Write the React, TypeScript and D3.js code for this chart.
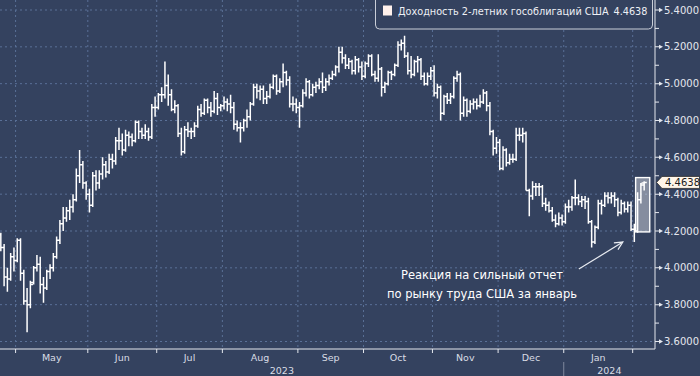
import React from "react";
import * as d3 from "d3";

type Bar = [number, number, number, number]; // open, high, low, close

const apr: Bar[] = [
  [4.18, 4.19, 4.09, 4.11], [4.11, 4.13, 3.9, 3.95], [3.95, 4.0, 3.87, 3.94], [3.94, 4.08, 3.93, 4.06], [4.06, 4.11, 3.98, 4.04],
];
const may: Bar[] = [
  [4.04, 4.16, 4.03, 4.15], [4.15, 4.16, 3.93, 3.97], [3.97, 3.99, 3.8, 3.82], [3.82, 3.89, 3.65, 3.8], [3.8, 3.93, 3.78, 3.91],
  [3.92, 4.01, 3.91, 4.0], [4.0, 4.07, 3.98, 4.02], [4.02, 4.06, 3.86, 3.91], [3.91, 3.95, 3.81, 3.89], [3.89, 3.99, 3.88, 3.98],
  [3.98, 4.02, 3.94, 4.0], [4.0, 4.08, 3.98, 4.06], [4.06, 4.17, 4.05, 4.15], [4.15, 4.26, 4.13, 4.24], [4.24, 4.33, 4.2, 4.27],
  [4.27, 4.33, 4.25, 4.31], [4.31, 4.37, 4.26, 4.33], [4.33, 4.4, 4.3, 4.37], [4.37, 4.54, 4.36, 4.5], [4.5, 4.64, 4.46, 4.56],
  [4.56, 4.58, 4.43, 4.46], [4.46, 4.47, 4.37, 4.4],
];
const jun: Bar[] = [
  [4.4, 4.43, 4.3, 4.34], [4.34, 4.52, 4.33, 4.5], [4.5, 4.53, 4.42, 4.46], [4.46, 4.53, 4.43, 4.51], [4.51, 4.6, 4.48, 4.56],
  [4.56, 4.58, 4.49, 4.52], [4.52, 4.62, 4.51, 4.59], [4.59, 4.62, 4.54, 4.58], [4.58, 4.71, 4.56, 4.69], [4.69, 4.76, 4.64, 4.69],
  [4.69, 4.73, 4.61, 4.64], [4.64, 4.75, 4.63, 4.72], [4.72, 4.74, 4.66, 4.71], [4.71, 4.73, 4.66, 4.69], [4.69, 4.8, 4.68, 4.79],
  [4.79, 4.8, 4.7, 4.74], [4.74, 4.76, 4.7, 4.72], [4.72, 4.78, 4.7, 4.74], [4.74, 4.76, 4.69, 4.71], [4.71, 4.89, 4.7, 4.87],
  [4.87, 4.93, 4.82, 4.87],
];
const jul: Bar[] = [
  [4.87, 4.95, 4.86, 4.94], [4.94, 4.98, 4.9, 4.94], [4.94, 5.12, 4.92, 4.99], [4.99, 5.05, 4.88, 4.94], [4.94, 4.97, 4.85, 4.86],
  [4.86, 4.91, 4.84, 4.88], [4.88, 4.89, 4.71, 4.73], [4.73, 4.76, 4.61, 4.63], [4.63, 4.77, 4.62, 4.75], [4.75, 4.79, 4.71, 4.74],
  [4.74, 4.76, 4.7, 4.74], [4.74, 4.79, 4.71, 4.77], [4.77, 4.88, 4.76, 4.86], [4.86, 4.89, 4.82, 4.84], [4.84, 4.92, 4.83, 4.91],
  [4.91, 4.92, 4.84, 4.87], [4.87, 4.9, 4.82, 4.85], [4.85, 4.96, 4.84, 4.92], [4.92, 4.95, 4.83, 4.87], [4.87, 4.89, 4.85, 4.88],
];
const aug: Bar[] = [
  [4.88, 4.93, 4.86, 4.9], [4.9, 4.92, 4.85, 4.89], [4.89, 4.94, 4.84, 4.87], [4.87, 4.9, 4.75, 4.78], [4.78, 4.8, 4.74, 4.76],
  [4.76, 4.79, 4.68, 4.76], [4.76, 4.81, 4.74, 4.8], [4.8, 4.86, 4.76, 4.82], [4.82, 4.9, 4.8, 4.89], [4.89, 5.0, 4.88, 4.98],
  [4.98, 5.0, 4.92, 4.96], [4.96, 4.99, 4.91, 4.97], [4.97, 4.99, 4.89, 4.92], [4.92, 4.96, 4.89, 4.93], [4.93, 5.0, 4.92, 4.98],
  [4.98, 5.05, 4.97, 5.04], [5.04, 5.05, 4.94, 4.96], [4.96, 5.03, 4.95, 5.01], [5.01, 5.11, 4.98, 5.06], [5.06, 5.07, 4.99, 5.02],
  [5.02, 5.04, 4.87, 4.89], [4.89, 4.93, 4.85, 4.89], [4.89, 4.92, 4.84, 4.87],
];
const sep: Bar[] = [
  [4.87, 4.9, 4.76, 4.88], [4.88, 4.97, 4.87, 4.95], [4.95, 5.03, 4.93, 5.01], [5.01, 5.02, 4.92, 4.94], [4.94, 5.0, 4.93, 4.98],
  [4.98, 5.01, 4.95, 4.99], [4.99, 5.03, 4.97, 5.01], [5.01, 5.06, 4.95, 4.98], [4.98, 5.03, 4.96, 5.01], [5.01, 5.05, 4.99, 5.03],
  [5.03, 5.07, 5.02, 5.05], [5.05, 5.1, 5.04, 5.09], [5.09, 5.2, 5.06, 5.17], [5.17, 5.2, 5.11, 5.14], [5.14, 5.16, 5.08, 5.1],
  [5.1, 5.14, 5.08, 5.12], [5.12, 5.13, 5.05, 5.07], [5.07, 5.15, 5.05, 5.13], [5.13, 5.14, 5.06, 5.09], [5.09, 5.12, 5.02, 5.04],
];
const oct: Bar[] = [
  [5.04, 5.12, 5.03, 5.11], [5.11, 5.16, 5.09, 5.15], [5.15, 5.16, 5.04, 5.05], [5.05, 5.07, 5.01, 5.03], [5.03, 5.16, 5.01, 5.08],
  [5.08, 5.09, 4.93, 4.98], [4.98, 5.01, 4.95, 5.0], [5.0, 5.07, 4.99, 5.06], [5.06, 5.07, 5.02, 5.05], [5.05, 5.11, 5.04, 5.1],
  [5.1, 5.23, 5.09, 5.21], [5.21, 5.24, 5.18, 5.22], [5.22, 5.26, 5.14, 5.15], [5.15, 5.17, 5.05, 5.07], [5.07, 5.15, 5.03, 5.05],
  [5.05, 5.13, 5.04, 5.12], [5.12, 5.15, 5.06, 5.13], [5.13, 5.14, 5.02, 5.04], [5.04, 5.06, 4.99, 5.0], [5.0, 5.06, 4.99, 5.04],
  [5.04, 5.09, 5.02, 5.07],
];
const nov: Bar[] = [
  [5.07, 5.1, 4.93, 4.95], [4.95, 5.0, 4.92, 4.98], [4.98, 4.99, 4.8, 4.84], [4.84, 4.94, 4.83, 4.93], [4.93, 4.95, 4.89, 4.91],
  [4.91, 4.95, 4.89, 4.93], [4.93, 5.04, 4.92, 5.03], [5.03, 5.07, 5.01, 5.05], [5.05, 5.06, 4.8, 4.84], [4.84, 4.93, 4.82, 4.91],
  [4.91, 4.92, 4.82, 4.85], [4.85, 4.91, 4.84, 4.89], [4.89, 4.92, 4.86, 4.9], [4.9, 4.92, 4.86, 4.88], [4.88, 4.94, 4.87, 4.9],
  [4.9, 4.97, 4.89, 4.95], [4.95, 4.96, 4.85, 4.88], [4.88, 4.9, 4.72, 4.74], [4.74, 4.75, 4.61, 4.65], [4.65, 4.71, 4.62, 4.68],
];
const dec: Bar[] = [
  [4.68, 4.7, 4.53, 4.54], [4.54, 4.66, 4.53, 4.64], [4.64, 4.65, 4.55, 4.57], [4.57, 4.62, 4.56, 4.59], [4.59, 4.62, 4.57, 4.59],
  [4.59, 4.76, 4.58, 4.72], [4.72, 4.76, 4.69, 4.72], [4.72, 4.76, 4.68, 4.73], [4.73, 4.74, 4.42, 4.42], [4.42, 4.43, 4.28, 4.39],
  [4.39, 4.47, 4.37, 4.44], [4.44, 4.46, 4.39, 4.44], [4.44, 4.46, 4.39, 4.44], [4.44, 4.45, 4.33, 4.35], [4.35, 4.38, 4.31, 4.34],
  [4.34, 4.36, 4.3, 4.31], [4.31, 4.33, 4.25, 4.26], [4.26, 4.29, 4.22, 4.24], [4.24, 4.3, 4.23, 4.27], [4.27, 4.29, 4.23, 4.25],
];
const jan: Bar[] = [
  [4.25, 4.35, 4.24, 4.33], [4.33, 4.37, 4.3, 4.33], [4.33, 4.39, 4.31, 4.38], [4.38, 4.48, 4.34, 4.38], [4.38, 4.4, 4.34, 4.36],
  [4.36, 4.39, 4.33, 4.37], [4.37, 4.39, 4.32, 4.36], [4.36, 4.38, 4.24, 4.25], [4.25, 4.26, 4.11, 4.14], [4.14, 4.23, 4.13, 4.22],
  [4.22, 4.37, 4.21, 4.35], [4.35, 4.37, 4.29, 4.34], [4.34, 4.41, 4.33, 4.39], [4.39, 4.41, 4.35, 4.38], [4.38, 4.41, 4.35, 4.39],
  [4.39, 4.41, 4.33, 4.37], [4.37, 4.38, 4.28, 4.3], [4.3, 4.37, 4.29, 4.35], [4.35, 4.36, 4.3, 4.32], [4.32, 4.36, 4.3, 4.34],
  [4.34, 4.36, 4.2, 4.21],
];
const feb: Bar[] = [
  [4.21, 4.24, 4.14, 4.2], [4.2, 4.41, 4.19, 4.37], [4.37, 4.46, 4.35, 4.45], [4.46, 4.47, 4.42, 4.4638],
];

const monthBars: Bar[][] = [apr, may, jun, jul, aug, sep, oct, nov, dec, jan, feb];
const monthLabels = ["", "May", "Jun", "Jul", "Aug", "Sep", "Oct", "Nov", "Dec", "Jan", ""];
const yearLabels = [
  { label: "2023", fromMonth: 0, toMonth: 9 },
  { label: "2024", fromMonth: 9, toMonth: 11 },
];
const yMajorTicks = [3.6, 3.8, 4.0, 4.2, 4.4, 4.6, 4.8, 5.0, 5.2, 5.4];
const yMinorTicks = [3.7, 3.9, 4.1, 4.3, 4.5, 4.7, 4.9, 5.1, 5.3];
const lastValue = 4.4638;
const legendLabel = "Доходность 2-летних гособлигаций США";
const annotationLines = ["Реакция на сильный отчет", "по рынку труда США за январь"];
// highlight box: months index 10 (Feb), bars 1..3, value range
const highlight = { month: 10, firstBar: 1, lastBar: 3, low: 4.195, high: 4.49 };

const BG = "#34425f";
const GRID = "#5a7097";
const FONT = "'DejaVu Sans', sans-serif";

export default function App() {
  const W = 700;
  const H = 376;
  const plotRight = 655;
  const plotBottom = 349;

  const bars: Bar[] = monthBars.flat();
  const starts: number[] = [];
  let acc = 0;
  monthBars.forEach((m) => {
    starts.push(acc);
    acc += m.length;
  });
  const n = bars.length;

  const x = d3.scaleLinear().domain([-0.25, 199.3]).range([0, plotRight]);
  const y = d3.scaleLinear().domain([3.6, 5.4]).range([341.5, 10]);

  const boundaries = starts.slice(1).map((s) => x(s - 0.5));
  const boundaryAt = (mi: number) => (mi === 0 ? 0 : mi >= monthBars.length ? plotRight : x(starts[mi] - 0.5));

  const tk = 2.6;
  const barPath = bars
    .map((b, i) => {
      const cx = x(i);
      const [o, h, l, c] = b;
      return `M${cx},${y(h)}V${y(l)}M${cx - tk},${y(o)}H${cx}M${cx},${y(c)}H${cx + tk}`;
    })
    .join("");

  const hb0 = starts[highlight.month] + highlight.firstBar;
  const hb1 = starts[highlight.month] + highlight.lastBar;
  const boxX0 = x(hb0 - 0.6);
  const boxX1 = x(hb1 + 1.7);
  const boxY0 = y(highlight.high);
  const boxY1 = y(highlight.low);

  const yv = y(lastValue);

  // arrow
  const arrowTip = { x: x(n - 7.5), y: y(4.14) };
  const arrowTail = { x: arrowTip.x - 44, y: arrowTip.y + 27 };
  const ang = Math.atan2(arrowTail.y - arrowTip.y, arrowTail.x - arrowTip.x);
  const hl = 9;
  const a1 = { x: arrowTip.x + hl * Math.cos(ang + 0.45), y: arrowTip.y + hl * Math.sin(ang + 0.45) };
  const a2 = { x: arrowTip.x + hl * Math.cos(ang - 0.45), y: arrowTip.y + hl * Math.sin(ang - 0.45) };

  return (
    <svg width={W} height={H} style={{ position: "absolute", left: 0, top: 0, display: "block" }} fontFamily={FONT}>
      <rect x={0} y={0} width={W} height={H} fill={BG} />
      {/* horizontal grid */}
      {yMajorTicks.map((t) => (
        <line key={"hg" + t} x1={0} x2={plotRight} y1={y(t)} y2={y(t)} stroke={GRID} strokeWidth={1} strokeDasharray="2,3" />
      ))}
      {/* vertical grid */}
      {boundaries.map((bx, i) => (
        <line key={"vg" + i} x1={bx} x2={bx} y1={0} y2={plotBottom} stroke={GRID} strokeWidth={1} strokeDasharray="2,3" />
      ))}

      {/* highlight box */}
      <rect x={boxX0} y={boxY0} width={boxX1 - boxX0} height={boxY1 - boxY0} fill="#ffffff" fillOpacity={0.4} stroke="#ffffff" strokeWidth={1.4} />

      {/* bars */}
      <path d={barPath} fill="none" stroke="#ffffff" strokeWidth={1.5} />

      {/* axes */}
      <line x1={0} x2={plotRight} y1={plotBottom} y2={plotBottom} stroke="#e4e7ee" strokeWidth={1} />
      <line x1={plotRight} x2={plotRight} y1={0} y2={plotBottom} stroke="#e4e7ee" strokeWidth={1} />
      {boundaries.map((bx, i) => (
        <line key={"xt" + i} x1={bx} x2={bx} y1={plotBottom} y2={plotBottom + 4} stroke="#e4e7ee" strokeWidth={1} />
      ))}
      {monthLabels.map((m, i) =>
        m ? (
          <text key={"ml" + i} x={(boundaryAt(i) + boundaryAt(i + 1)) / 2} y={361} fill="#d9dde5" fontSize={9.5} textAnchor="middle">
            {m}
          </text>
        ) : null
      )}
      {yearLabels.map((yl) => (
        <text key={yl.label} x={(boundaryAt(yl.fromMonth) + boundaryAt(yl.toMonth)) / 2} y={374} fill="#d9dde5" fontSize={9.5} textAnchor="middle">
          {yl.label}
        </text>
      ))}
      <line x1={boundaryAt(9)} x2={boundaryAt(9)} y1={362} y2={376} stroke="#7f899d" strokeWidth={1} />

      {/* y axis ticks and labels */}
      {yMinorTicks.map((t) => (
        <line key={"mt" + t} x1={plotRight} x2={plotRight + 4} y1={y(t)} y2={y(t)} stroke="#e4e7ee" strokeWidth={1} />
      ))}
      {yMajorTicks.map((t) => (
        <g key={"yt" + t}>
          <path d={`M${plotRight},${y(t) - 0.5}H${plotRight + 4}V${y(t) + 0.5}H${plotRight}Z M${plotRight + 4},${y(t) - 2.2}L${plotRight + 8},${y(t)}L${plotRight + 4},${y(t) + 2.2}Z`} fill="#e4e7ee" />
          <text x={plotRight + 9} y={y(t) + 3.6} fill="#e4e7ee" fontSize={10}>
            {d3.format(".4f")(t)}
          </text>
        </g>
      ))}

      {/* last value tag */}
      <path d={`M${plotRight + 1.5},${yv}L${plotRight + 7},${yv - 6}H699.5V${yv + 6}H${plotRight + 7}Z`} fill="#fff6ea" stroke="#2a2a2a" strokeWidth={0.8} />
      <text x={plotRight + 10} y={yv + 3.6} fill="#1b1b1b" fontSize={10}>
        {d3.format(".4f")(lastValue)}
      </text>

      {/* legend */}
      <rect x={375.5} y={-6} width={277} height={35} rx={4} fill={BG} stroke="#c9ced8" strokeWidth={1} />
      <rect x={383} y={5.5} width={9} height={10} fill="#fff1ec" />
      <text x={398} y={15} fill="#eef0f5" fontSize={9.7}>
        <tspan>{legendLabel}</tspan>
        <tspan dx={5}>{d3.format(".4f")(lastValue)}</tspan>
      </text>

      {/* annotation */}
      {annotationLines.map((line, i) => (
        <text key={"an" + i} x={482} y={arrowTail.y + 10 + i * 19} fill="#ffffff" fontSize={11.5} textAnchor="middle">
          {line}
        </text>
      ))}
      <line x1={arrowTail.x} y1={arrowTail.y} x2={arrowTip.x} y2={arrowTip.y} stroke="#e8ebf1" strokeWidth={1.2} />
      <path d={`M${a1.x},${a1.y}L${arrowTip.x},${arrowTip.y}L${a2.x},${a2.y}`} fill="none" stroke="#e8ebf1" strokeWidth={1.2} />
    </svg>
  );
}
